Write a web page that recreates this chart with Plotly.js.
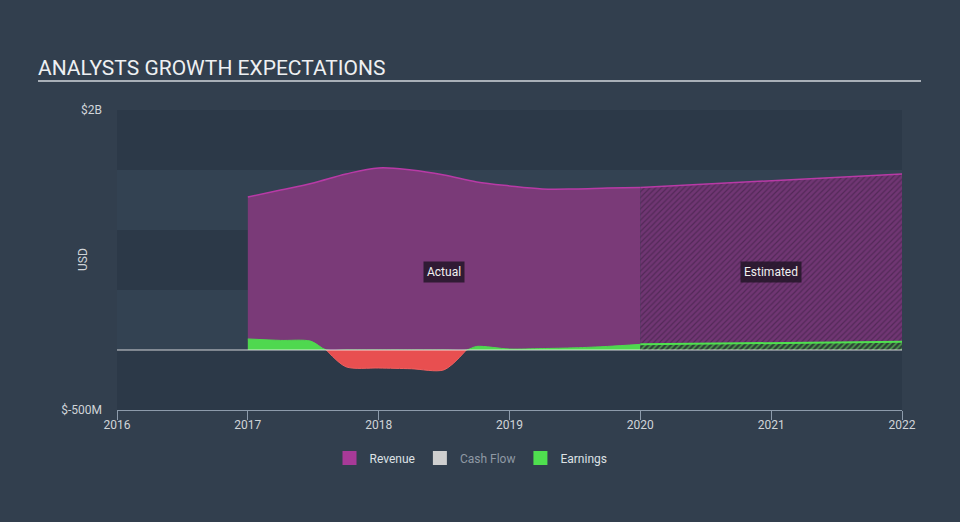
<!DOCTYPE html>
<html>
<head>
<meta charset="utf-8">
<script src="https://cdn.plot.ly/plotly-3.0.1.min.js"></script>
<style>
html,body{margin:0;padding:0;background:#323f4e;}
#chart{width:960px;height:522px;}
</style>
</head>
<body>
<div id="chart"></div>
<script>
// ---- data (USD millions) ----
const actualYears   = [2017, 2017.25, 2017.5, 2017.75, 2018, 2018.25, 2018.5, 2018.75, 2019, 2019.25, 2019.5, 2019.75, 2020];
const actualRevenue = [1275, 1333, 1392, 1467, 1517, 1500, 1458, 1400, 1367, 1342, 1342, 1350, 1355];
const earningsYears = [2017, 2017.25, 2017.48, 2017.6, 2017.75, 2018, 2018.25, 2018.5, 2018.67, 2018.75, 2019, 2019.25, 2019.5, 2019.75, 2020];
const actualEarnings= [92, 80, 74, 0, -140, -150, -156, -165, 0, 30, 8, 12, 18, 30, 47];
const estYears      = [2020, 2021, 2022];
const estRevenue    = [1355, 1410, 1467];
const estEarnings   = [47, 58, 69];
const xTicks        = [2016, 2017, 2018, 2019, 2020, 2021, 2022];
const yTickVals     = [2000, -500];
const yTickText     = ['$2B', '$-500M'];
const legendNames   = ['Revenue', 'Cash Flow', 'Earnings'];
const legendColors  = ['#a83a98', '#cfcfcf', '#4fe04f'];

// positive / negative split of earnings
const posE = actualEarnings.map(v => Math.max(v, 0));
const negIdx = actualEarnings.map((v, i) =>
  v < 0 || (actualEarnings[i - 1] !== undefined && actualEarnings[i - 1] < 0) ||
  (actualEarnings[i + 1] !== undefined && actualEarnings[i + 1] < 0));
const negX = earningsYears.filter((_, i) => negIdx[i]);
const negE = actualEarnings.filter((_, i) => negIdx[i]).map(v => Math.min(v, 0));

const traces = [
  { x: actualYears, y: actualRevenue, type: 'scatter', mode: 'lines', fill: 'tozeroy',
    fillcolor: '#7a3a78', line: { color: '#b83aa6', width: 1.5, shape: 'spline', smoothing: 1 },
    showlegend: false, hoverinfo: 'skip' },
  { x: estYears, y: estRevenue, type: 'scatter', mode: 'lines', fill: 'tozeroy',
    fillpattern: { shape: '/', bgcolor: '#703673', fgcolor: '#532958', size: 4, solidity: 0.3 },
    line: { color: '#b83aa6', width: 1.5 }, showlegend: false, hoverinfo: 'skip' },
  { x: earningsYears, y: posE, type: 'scatter', mode: 'lines', fill: 'tozeroy',
    fillcolor: '#4fd84f', line: { color: '#4fd84f', width: 1, shape: 'spline', smoothing: 0.8 },
    showlegend: false, hoverinfo: 'skip' },
  { x: negX, y: negE, type: 'scatter', mode: 'lines', fill: 'tozeroy',
    fillcolor: '#e84f50', line: { color: '#f06060', width: 1, shape: 'spline', smoothing: 0.8 },
    showlegend: false, hoverinfo: 'skip' },
  { x: estYears, y: estEarnings, type: 'scatter', mode: 'lines', fill: 'tozeroy',
    fillpattern: { shape: '/', bgcolor: '#2c4036', fgcolor: '#4f9f4f', size: 4, solidity: 0.4 },
    line: { color: '#4fe04f', width: 2 }, showlegend: false, hoverinfo: 'skip' }
];

legendNames.forEach((n, i) => {
  traces.push({
    x: [null], y: [null], type: 'bar',
    name: i === 1 ? '<span style="color:#8f99a4">' + n + '</span>' : n,
    marker: { color: legendColors[i], line: { color: legendColors[i], width: 2 } },
    showlegend: true, hoverinfo: 'skip'
  });
});

const plotLeft = 117, plotRight = 902, plotTop = 110, plotBottom = 410;
const pw = plotRight - plotLeft, ph = plotBottom - plotTop;

const layout = {
  width: 960, height: 522,
  margin: { l: plotLeft, r: 960 - plotRight, t: plotTop, b: 522 - plotBottom, pad: 0 },
  paper_bgcolor: '#323f4e',
  plot_bgcolor: '#2c3948',
  font: { family: 'Roboto, "Open Sans", sans-serif', color: '#cfd4da', size: 12 },
  title: {
    text: 'ANALYSTS GROWTH EXPECTATIONS',
    font: { family: 'Roboto, sans-serif', size: 21, color: '#eef0f2' },
    xref: 'container', x: 38 / 960, xanchor: 'left',
    yref: 'container', y: 1 - 68 / 522, yanchor: 'middle'
  },
  xaxis: {
    range: [2016, 2022], tickvals: xTicks, ticktext: xTicks.map(String),
    showgrid: false, zeroline: false, showline: true, linecolor: '#8d9bab', linewidth: 1,
    ticks: 'outside', ticklen: 9, tickcolor: '#8d9bab', tickwidth: 1,
    ticklabelstandoff: -5,
    tickfont: { size: 12, color: '#d0d4d8' }, fixedrange: true
  },
  yaxis: {
    range: [-500, 2000], tickvals: yTickVals, ticktext: yTickText,
    showgrid: false, zeroline: false, showline: false, ticks: '',
    ticklabelstandoff: 14,
    tickfont: { size: 12, color: '#d0d4d8' }, fixedrange: true
  },
  showlegend: true,
  legend: {
    orientation: 'h', x: (471 - plotLeft) / pw, xanchor: 'center',
    y: (plotBottom - 458) / ph, yanchor: 'middle',
    font: { size: 12, color: '#dde1e5' }, bgcolor: 'rgba(0,0,0,0)', itemclick: false
  },
  shapes: [
    { type: 'rect', xref: 'paper', yref: 'y', x0: 0, x1: 1, y0: 1000, y1: 1500,
      fillcolor: '#334252', line: { width: 0 }, layer: 'below' },
    { type: 'rect', xref: 'paper', yref: 'y', x0: 0, x1: 1, y0: 0, y1: 500,
      fillcolor: '#334252', line: { width: 0 }, layer: 'below' },
    { type: 'line', xref: 'paper', yref: 'y', x0: 0, x1: 1, y0: 0, y1: 0,
      line: { color: 'rgba(240,240,240,0.85)', width: 1.2 }, layer: 'above' },
    { type: 'line', xref: 'paper', yref: 'paper',
      x0: (38 - plotLeft) / pw, x1: (921 - plotLeft) / pw,
      y0: (plotBottom - 81) / ph, y1: (plotBottom - 81) / ph,
      line: { color: '#a9b0b8', width: 2 } }
  ],
  annotations: [
    { x: 2018.5, y: 650, xref: 'x', yref: 'y', text: 'Actual', showarrow: false,
      bgcolor: 'rgba(35,22,40,0.85)', borderpad: 3, font: { size: 12, color: '#f0f0f0' } },
    { x: 2021, y: 650, xref: 'x', yref: 'y', text: 'Estimated', showarrow: false,
      bgcolor: 'rgba(35,22,40,0.85)', borderpad: 3, font: { size: 12, color: '#f0f0f0' } },
    { x: (82 - plotLeft) / pw, y: (plotBottom - 260) / ph, xref: 'paper', yref: 'paper',
      xshift: -8, text: 'USD', textangle: -90, showarrow: false,
      font: { size: 12, color: '#d0d4d8' } }
  ]
};

Plotly.newPlot('chart', traces, layout, { displayModeBar: false, staticPlot: true });
</script>
</body>
</html>
